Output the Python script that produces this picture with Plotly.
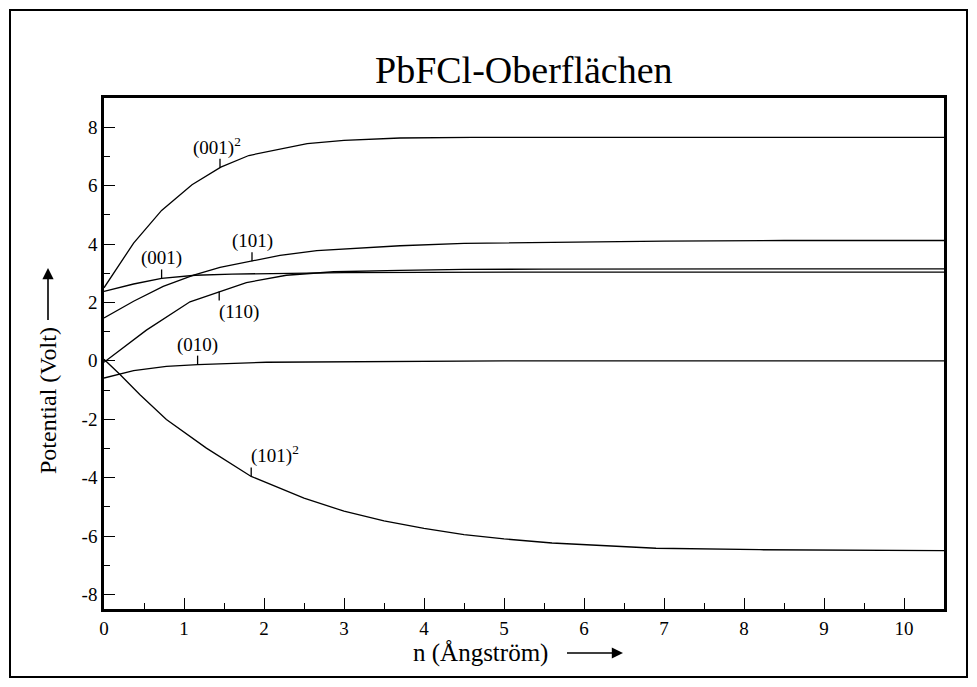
import numpy as np
import plotly.graph_objects as go

FONT = "Liberation Serif, Times New Roman, serif"

# ---- data ----
x_001sq = [0, 0.37, 0.72, 1.10, 1.46, 1.81, 2.54, 3.0, 3.7, 4.6, 6.0, 8.0, 10.5]
y_001sq = [2.5, 4.03, 5.15, 6.03, 6.63, 7.03, 7.44, 7.55, 7.63, 7.65, 7.65, 7.65, 7.65]

x_001 = [0, 0.37, 0.72, 1.14, 1.6, 2.2, 3.0, 4.0, 5.0, 6.0, 8.0, 10.5]
y_001 = [2.38, 2.63, 2.82, 2.93, 2.97, 3.0, 3.02, 3.03, 3.04, 3.04, 3.04, 3.04]

x_101 = [0, 0.37, 0.74, 1.12, 1.45, 1.85, 2.2, 2.66, 3.7, 4.5, 5.5, 7.0, 8.5, 10.5]
y_101 = [1.47, 2.04, 2.55, 2.93, 3.2, 3.41, 3.61, 3.77, 3.94, 4.02, 4.06, 4.10, 4.12, 4.12]

x_110 = [0, 0.53, 1.075, 1.45, 1.78, 2.28, 2.87, 3.7, 4.5, 5.5, 7.0, 10.5]
y_110 = [-0.05, 1.05, 2.02, 2.38, 2.68, 2.93, 3.05, 3.10, 3.13, 3.14, 3.15, 3.15]

x_010 = [0, 0.37, 0.78, 1.17, 2.03, 3.0, 3.7, 5.0, 7.0, 10.5]
y_010 = [-0.59, -0.34, -0.19, -0.13, -0.05, -0.03, -0.01, 0.0, 0.0, 0.0]

x_101sq = [0, 0.2, 0.45, 0.78, 1.28, 1.84, 2.5, 3.0, 3.5, 4.0, 4.5, 5.0, 5.6, 6.2, 6.9, 8.2, 9.5, 10.5]
y_101sq = [0.05, -0.47, -1.16, -2.01, -2.99, -3.96, -4.70, -5.15, -5.48, -5.74, -5.95, -6.10, -6.24, -6.33, -6.42, -6.47, -6.49, -6.50]

curves = [
    (x_001sq, y_001sq),
    (x_001, y_001),
    (x_101, y_101),
    (x_110, y_110),
    (x_010, y_010),
    (x_101sq, y_101sq),
]

label_texts = ["(001)<sup>2</sup>", "(001)", "(101)", "(110)", "(010)", "(101)<sup>2</sup>"]
label_x = [1.45, 0.72, 1.85, 1.44, 1.17, 1.84]
label_dir = [1, 1, 1, -1, 1, 1]
label_anchor = ["center", "center", "center", "left", "center", "left"]
label_xshift = [-3, 0, 0, -2, 0, -2]

x_tickvals = list(range(0, 11))
x_ticktext = [str(v) for v in x_tickvals]
y_tickvals = [-8, -6, -4, -2, 0, 2, 4, 6, 8]
y_ticktext = ["-8", "-6", "-4", "-2", "0", "2", "4", "6", "8"]

title_text = "PbFCl-Oberflächen"
x_title = "n (Ångström)"
y_title = "Potential (Volt)"

# ---- figure ----
fig = go.Figure()
for xs, ys in curves:
    fig.add_trace(go.Scatter(x=xs, y=ys, mode="lines",
                             line=dict(color="black", width=1.3),
                             showlegend=False, hoverinfo="skip"))

TICK = 9
for (xs, ys), txt, lx, d, anc, xsh in zip(curves, label_texts, label_x, label_dir,
                                          label_anchor, label_xshift):
    yc = float(np.interp(lx, xs, ys))
    fig.add_shape(type="line", xref="x", yref="y", ysizemode="pixel", yanchor=yc,
                  x0=lx, x1=lx, y0=0, y1=TICK * d,
                  line=dict(color="black", width=1.3))
    fig.add_annotation(x=lx, y=yc, text=txt, showarrow=False, xanchor=anc,
                       yanchor="bottom" if d > 0 else "top",
                       yshift=(TICK - 2) * d, xshift=xsh,
                       font=dict(family=FONT, size=19, color="black"))

W, H = 977, 687
L, R, T, B = 104, 33, 98, 78
pw, ph = W - L - R, H - T - B


def px(xp):
    return (xp - L) / pw


def py(yp):
    return (H - B - yp) / ph


# title
fig.add_annotation(xref="paper", yref="paper", x=0.5, y=py(70), text=title_text,
                   showarrow=False, xanchor="center", yanchor="middle",
                   font=dict(family=FONT, size=38, color="black"))
# x title with arrow to the right
fig.add_annotation(xref="paper", yref="paper", x=px(623), y=py(653), text=x_title,
                   showarrow=True, axref="pixel", ayref="pixel", ax=480 - 623, ay=0,
                   arrowhead=2, arrowsize=1.4, arrowwidth=1.6, arrowcolor="black",
                   standoff=0, startstandoff=18,
                   font=dict(family=FONT, size=25, color="black"))
# y title with arrow upward
fig.add_annotation(xref="paper", yref="paper", x=px(48), y=py(268), text=y_title,
                   textangle=-90, showarrow=True, axref="pixel", ayref="pixel",
                   ax=0, ay=401 - 268,
                   arrowhead=2, arrowsize=1.4, arrowwidth=1.6, arrowcolor="black",
                   standoff=0, startstandoff=6,
                   font=dict(family=FONT, size=24, color="black"))

# outer frame
fig.add_shape(type="rect", xref="paper", yref="paper",
              x0=px(10), x1=px(967), y0=py(677), y1=py(10),
              line=dict(color="black", width=2), layer="below")

axis_common = dict(
    showline=True, linecolor="black", linewidth=2.5, mirror=True,
    showgrid=False, zeroline=False,
    ticks="inside", ticklen=11, tickwidth=1.3, tickcolor="black",
    tickfont=dict(family=FONT, size=19, color="black"),
)
fig.update_xaxes(range=[0, 10.5], tickmode="array", tickvals=x_tickvals,
                 ticktext=x_ticktext,
                 minor=dict(dtick=0.5, tick0=0, ticks="inside", ticklen=6, tickwidth=1.3,
                            tickcolor="black", showgrid=False),
                 **axis_common)
fig.update_yaxes(range=[-8.5, 9], tickmode="array", tickvals=y_tickvals,
                 ticktext=y_ticktext,
                 minor=dict(dtick=1, tick0=0, ticks="inside", ticklen=6, tickwidth=1.3,
                            tickcolor="black", showgrid=False),
                 **axis_common)

fig.update_layout(width=W, height=H, margin=dict(l=L, r=R, t=T, b=B),
                  paper_bgcolor="white", plot_bgcolor="white",
                  font=dict(family=FONT, color="black"))

fig.write_html("out.html")
